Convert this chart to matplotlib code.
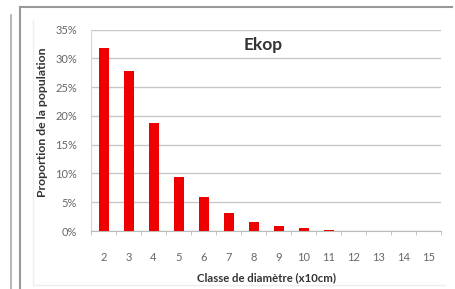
import matplotlib
matplotlib.use("Agg")
import matplotlib.pyplot as plt
from matplotlib.lines import Line2D
from matplotlib.ticker import PercentFormatter, FixedLocator

classes = ["2", "3", "4", "5", "6", "7", "8", "9", "10", "11", "12", "13", "14", "15"]
proportions = [31.7, 27.8, 18.7, 9.4, 5.85, 3.05, 1.6, 0.8, 0.45, 0.1, 0.0, 0.05, 0.05, 0.05]
yticks = [0, 5, 10, 15, 20, 25, 30, 35]

plt.rcParams['font.family'] = ['Lato', 'DejaVu Sans']

W, H = 456, 289
fig = plt.figure(figsize=(W / 100, H / 100), dpi=100)
fig.patch.set_facecolor('white')

ax = fig.add_axes([91 / W, (H - 231) / H, (441 - 91) / W, (231 - 29.5) / H])
x = list(range(len(classes)))
ax.bar(x, proportions, width=0.4, color='#ee0000', zorder=3)

ax.set_xlim(-0.5, len(classes) - 0.5)
ax.set_ylim(0, 35)
ax.set_xticks(x)
ax.set_xticklabels(classes)
ax.xaxis.set_minor_locator(FixedLocator([i + 0.5 for i in range(-1, len(classes))]))
ax.tick_params(axis='x', which='major', length=0, pad=15, labelsize=8, labelcolor='#666666')
ax.tick_params(axis='x', which='minor', length=3, color='#bbbbbb', direction='out')
ax.set_yticks(yticks)
ax.yaxis.set_major_formatter(PercentFormatter(decimals=0))
ax.tick_params(axis='y', length=0, pad=10, labelsize=8, labelcolor='#666666')

ax.grid(axis='y', color='#c8c8c8', linewidth=1.0, zorder=0)
for s in ['top', 'right']:
    ax.spines[s].set_visible(False)
ax.spines['left'].set_color('#c8d8f0')
ax.spines['bottom'].set_color('#bbbbbb')

fig.text(263 / W, 1 - 45 / H, "Ekop", ha='center', va='center',
         fontsize=12.5, fontweight='bold', color='#333333')

fig.text(43 / W, 1 - 122 / H, "Proportion de la population", rotation=90,
         ha='center', va='center', fontsize=8.8, fontweight='bold', color='#333333')
fig.text(267 / W, 1 - 278 / H, "Classe de diamètre (x10cm)", ha='center', va='center',
         fontsize=8.2, fontweight='bold', color='#333333')

# frame lines
fig.add_artist(Line2D([20 / W, 452 / W], [1 - 7 / H, 1 - 7 / H], color='#999999', linewidth=1.5))
fig.add_artist(Line2D([20 / W, 20 / W], [1 - 7 / H, 0], color='#999999', linewidth=1.5))
fig.add_artist(Line2D([11 / W, 11 / W], [1 - 15 / H, 0], color='#aaaaaa', linewidth=1.2))
fig.add_artist(Line2D([33 / W, 33 / W], [1 - 20 / H, 1 - 285 / H], color='#eeeeee', linewidth=1))
fig.add_artist(Line2D([33 / W, 445 / W], [1 - 285 / H, 1 - 285 / H], color='#eeeeee', linewidth=1))

fig.savefig("out.png", dpi=100)
